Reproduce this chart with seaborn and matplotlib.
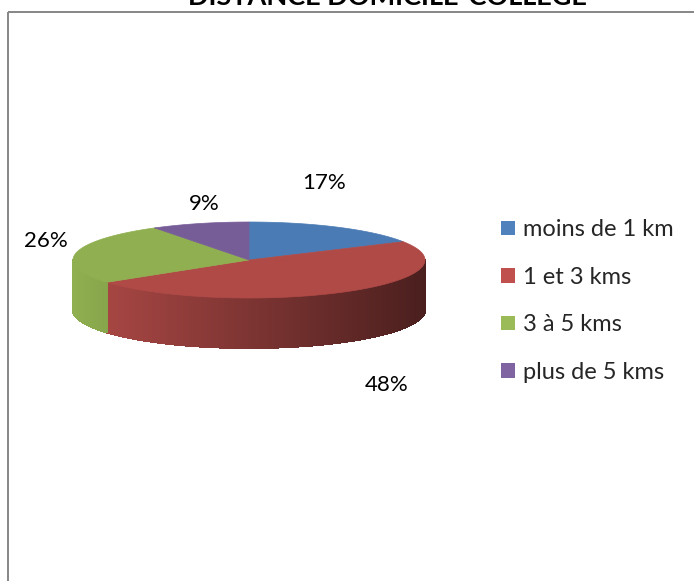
import numpy as np
import matplotlib
matplotlib.use("Agg")
import matplotlib.pyplot as plt
from matplotlib.patches import Polygon, Rectangle, Patch
import matplotlib.colors as mcolors
import seaborn as sns

# ---- data ----
categories = ["moins de 1 km", "1 et 3 kms", "3 à 5 kms", "plus de 5 kms"]
values = [17, 48, 26, 9]
colors = ["#4A7BB4", "#B04A47", "#8FAF50", "#775D98"]
legend_colors = ["#4F81BD", "#C0504D", "#9BBB59", "#8064A2"]
title = "DISTANCE DOMICILE-COLLEGE"

sns.set_theme(style="white")
plt.rcParams["font.family"] = ["Lato", "DejaVu Sans"]

W, H = 694, 581
fig = plt.figure(figsize=(W / 100, H / 100), dpi=100)
ax = fig.add_axes([0, 0, 1, 1])
ax.set_xlim(0, W)
ax.set_ylim(H, 0)
ax.axis("off")

# frame
ax.add_patch(Rectangle((8, 12), W + 20, H + 20, fill=False,
                       edgecolor="#868686", linewidth=1.4))

# pie geometry (pixel space)
cx, cy, a, b, depth = 249, 260, 176, 38, 50
vals = np.array(values, dtype=float)
fr = vals / vals.sum()
bounds = np.concatenate([[0], np.cumsum(fr)]) * 360.0  # clockwise from 12 o'clock

def px(th):
    r = np.radians(th)
    return cx + a * np.sin(r)

def py(th):
    r = np.radians(th)
    return cy - b * np.cos(r)

# side (front half: 90..270 deg)
left_x, right_x = cx - a, cx + a
for i in range(len(vals)):
    s, e = max(bounds[i], 90), min(bounds[i + 1], 270)
    if e <= s:
        continue
    ths = np.linspace(s, e, max(int((e - s) * 3), 2))
    base = np.array(mcolors.to_rgb(colors[i]))
    for t1, t2 in zip(ths[:-1], ths[1:]):
        xm = (px(t1) + px(t2)) / 2
        t = (xm - left_x) / (right_x - left_x)
        f = 1.0 - 0.58 * t
        c = np.clip(base * f, 0, 1)
        quad = [(px(t1), py(t1)), (px(t2), py(t2)),
                (px(t2), py(t2) + depth), (px(t1), py(t1) + depth)]
        ax.add_patch(Polygon(quad, closed=True, facecolor=c, edgecolor=c,
                             linewidth=0.8, antialiased=False))

# top face
for i in range(len(vals)):
    ths = np.linspace(bounds[i], bounds[i + 1], 200)
    pts = [(cx, cy)] + [(px(t), py(t)) for t in ths]
    ax.add_patch(Polygon(pts, closed=True, facecolor=colors[i],
                         edgecolor=colors[i], linewidth=0.5))

# percentage labels
label_offsets = [(-15, -44), (43, 93), (-30, -12), (4, -20)]
for i in range(len(vals)):
    mid = (bounds[i] + bounds[i + 1]) / 2
    x0, y0 = px(mid), py(mid)
    dx, dy = label_offsets[i]
    ax.text(x0 + dx, y0 + dy, f"{round(fr[i] * 100):.0f}%", ha="center",
            va="center", fontsize=16, color="#000000")

# legend
handles = [Patch(facecolor=c, edgecolor="none") for c in legend_colors]
fig.legend(handles, categories, loc="upper left",
           bbox_to_anchor=(492 / W, 1 - 210 / H), frameon=False,
           fontsize=17, handlelength=0.58, handleheight=0.58,
           handletextpad=0.35, labelspacing=1.12, borderaxespad=0)

# title (cut by top edge)
fig.text(387 / W, 1 - 5 / H, title, ha="center", va="baseline",
         fontsize=19.5, fontweight="bold", color="#000000")

fig.savefig("out.png", dpi=100, facecolor="white")
